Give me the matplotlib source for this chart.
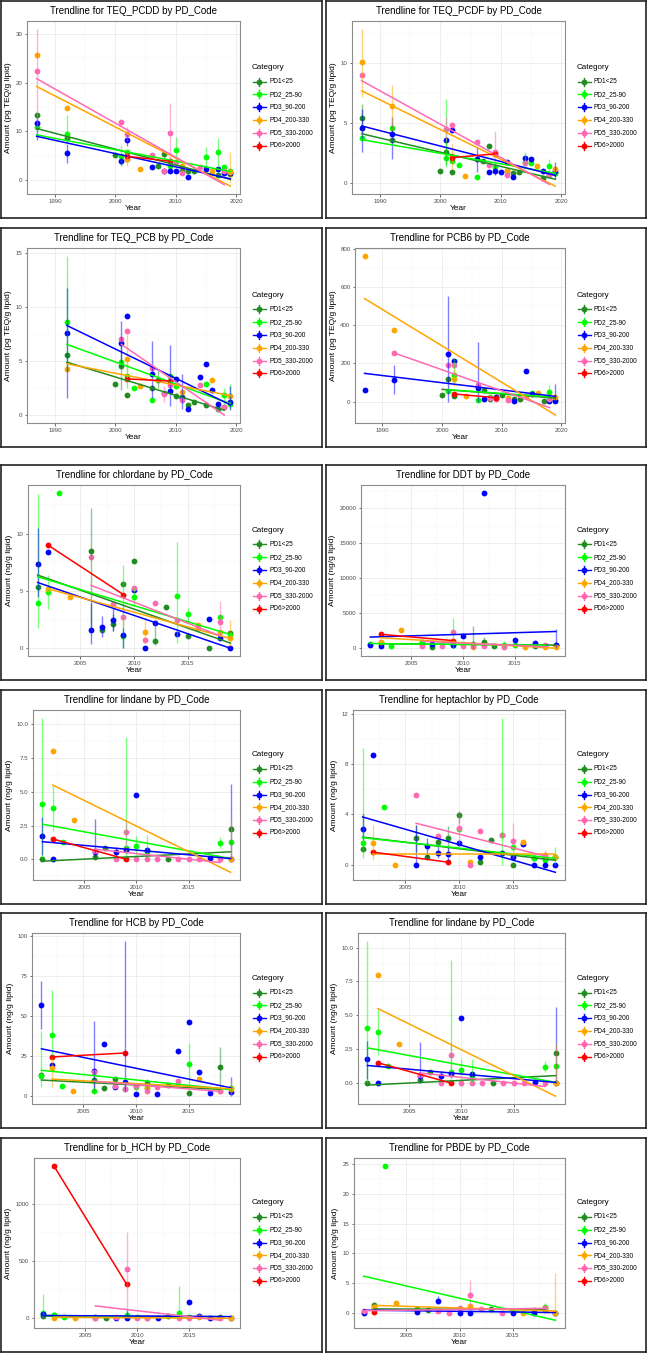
import matplotlib
matplotlib.use("Agg")
import matplotlib.pyplot as plt
from matplotlib.ticker import MultipleLocator, FormatStrFormatter

plt.rcParams['font.family'] = ['Liberation Sans', 'DejaVu Sans']

# -----------------------------
# Data
# -----------------------------
categories = ["PD1<25", "PD2_25-90", "PD3_90-200", "PD4_200-330", "PD5_330-2000", "PD6>2000"]
colors = ["#228B22", "#00FF00", "#0000FF", "#FFA500", "#FF69B4", "#FF0000"]
P1, P2, P3, P4, P5, P6 = categories

# TEQ_PCDD
pcdd_pts = {
    P1: [(1987, 13.3), (1992, 8.7), (2000, 5.1), (2002, 4.3), (2007, 3.0), (2008, 5.3), (2011, 2.0),
         (2012, 1.8), (2013, 2.0), (2017, 1.0), (2019, 1.2)],
    P2: [(1987, 10.9), (1992, 9.4), (2001, 5.0), (2002, 5.8), (2009, 2.9), (2010, 6.3), (2015, 4.8),
         (2017, 5.7), (2018, 2.7), (2019, 1.9)],
    P3: [(1987, 11.7), (1992, 5.6), (2001, 4.0), (2002, 8.2), (2006, 2.7), (2008, 1.8), (2009, 1.8),
         (2010, 1.8), (2012, 0.6), (2015, 2.4), (2017, 2.3), (2018, 1.5), (2019, 1.4)],
    P4: [(1987, 25.7), (1992, 14.8), (2002, 4.3), (2004, 2.4), (2011, 3.0), (2016, 1.8), (2019, 1.6)],
    P5: [(1987, 22.4), (2001, 12.0), (2002, 9.5), (2006, 5.1), (2008, 1.8), (2009, 9.7), (2010, 3.7),
         (2011, 1.5), (2014, 2.8), (2018, 1.8)],
    P6: [(2002, 4.9), (2009, 3.9)],
}
pcdd_err = {
    P1: [(2008, 4.5, 6.0)],
    P2: [(1992, 7.6, 13.3), (2001, 3.0, 7.3), (2010, 3.6, 8.9), (2015, 2.6, 6.9), (2017, 2.5, 8.6)],
    P3: [(1987, 8.2, 13.0), (1992, 3.5, 7.5), (2001, 3.2, 4.8), (2002, 7.0, 9.4)],
    P4: [(2002, 3.0, 6.0), (2019, -0.5, 5.8)],
    P5: [(1987, 10.0, 31.0), (2002, 8.0, 11.0), (2009, 3.5, 15.9)],
}
pcdd_trend = {P1: (10.6, 0.2), P2: (9.3, 1.8), P3: (9.0, 0.3), P4: (19.2, -1.2), P5: (20.8, -0.9), P6: (4.9, 3.9)}

# TEQ_PCDF
pcdf_pts = {
    P1: [(1987, 5.4), (1992, 3.6), (2000, 1.0), (2001, 2.6), (2002, 0.9), (2007, 1.8), (2008, 3.1),
         (2011, 1.0), (2012, 0.8), (2013, 0.85), (2017, 0.4), (2019, 0.8)],
    P2: [(1987, 3.7), (1992, 4.6), (2001, 2.1), (2002, 1.8), (2003, 1.45), (2006, 0.5), (2009, 1.3),
         (2014, 1.7), (2015, 1.6), (2018, 1.4), (2019, 0.8)],
    P3: [(1987, 4.6), (1992, 4.1), (2001, 3.6), (2002, 4.4), (2006, 2.0), (2008, 0.9), (2009, 1.0),
         (2010, 0.9), (2011, 1.7), (2012, 0.45), (2014, 2.1), (2015, 2.0), (2017, 1.0), (2018, 0.7), (2019, 1.0)],
    P4: [(1987, 10.1), (1992, 6.4), (2002, 2.2), (2004, 0.55), (2011, 1.0), (2016, 1.35), (2019, 1.1)],
    P5: [(1987, 9.0), (2001, 4.5), (2002, 4.8), (2006, 3.4), (2008, 1.5), (2009, 2.6), (2011, 0.65),
         (2014, 1.6), (2018, 0.6)],
    P6: [(2002, 2.1), (2009, 2.4)],
}
pcdf_err = {
    P1: [(1987, 4.2, 6.6), (2001, 1.5, 3.7)],
    P2: [(2001, 1.3, 7.0), (2014, 1.2, 2.6), (2018, 0.9, 2.0)],
    P3: [(1987, 2.6, 6.2), (1992, 2.0, 5.5), (2006, 0.9, 3.0), (2009, 0.6, 1.5), (2019, 0.3, 1.7)],
    P4: [(1987, 7.2, 12.9), (1992, 4.4, 8.2), (2002, 1.1, 3.3)],
    P5: [(2001, 3.5, 5.5), (2009, 1.4, 4.3)],
}
pcdf_trend = {P1: (4.1, 0.28), P2: (3.6, 0.78), P3: (4.75, 0.6), P4: (7.7, -0.3), P5: (8.55, -0.15), P6: (2.1, 2.4)}

# TEQ_PCB
pcb_pts = {
    P1: [(1992, 5.5), (2000, 2.8), (2001, 4.5), (2002, 1.8), (2006, 2.5), (2007, 3.2), (2008, 2.0),
         (2010, 1.7), (2011, 1.6), (2012, 0.85), (2013, 1.2), (2015, 0.9), (2017, 0.5), (2018, 0.7)],
    P2: [(1992, 8.6), (2001, 4.9), (2002, 3.6), (2003, 2.5), (2006, 1.3), (2009, 3.6), (2010, 2.6),
         (2015, 2.8), (2018, 1.8), (2019, 1.0)],
    P3: [(1992, 7.6), (2001, 6.6), (2002, 9.1), (2006, 3.8), (2009, 2.2), (2010, 3.3), (2011, 1.5),
         (2012, 0.55), (2014, 3.5), (2015, 4.7), (2016, 2.3), (2017, 1.0), (2019, 1.2)],
    P4: [(1992, 4.2), (2002, 5.1), (2004, 2.6), (2011, 2.1), (2016, 3.2), (2019, 1.75)],
    P5: [(2001, 7.0), (2002, 7.7), (2006, 4.3), (2008, 1.9), (2009, 2.7), (2011, 1.3), (2014, 2.7), (2018, 0.7)],
    P6: [(2002, 3.3), (2009, 3.1)],
}
pcb_err = {
    P1: [(2001, 2.3, 6.8), (2007, 2.5, 4.0)],
    P2: [(1992, 4.0, 14.7), (2002, 2.5, 4.8), (2018, 1.0, 2.5), (2019, 0.5, 2.8)],
    P3: [(1992, 1.5, 11.7), (2001, 4.5, 8.7), (2006, 1.5, 6.8), (2009, 0.8, 6.4), (2011, 0.5, 3.8), (2019, 0.4, 2.6)],
    P4: [(2002, 3.0, 7.5)],
    P5: [(2008, 1.2, 2.6)],
}
pcb_trend = {P1: (4.85, 0.4), P2: (6.5, 1.0), P3: (8.25, 0.9), P4: (4.7, 1.75), P5: (6.5, -0.05), P6: (3.3, 3.1)}

# PCB6
pcb6_pts = {
    P1: [(2000, 35), (2001, 120), (2002, 30), (2007, 60), (2008, 15), (2010, 35), (2012, 15), (2013, 15),
         (2017, 5), (2019, 10)],
    P2: [(2001, 55), (2002, 140), (2006, 10), (2008, 25), (2015, 45), (2018, 50)],
    P3: [(1987, 60), (1992, 115), (2001, 250), (2002, 215), (2006, 70), (2007, 15), (2009, 25), (2012, 5),
         (2014, 160), (2015, 40), (2018, 5), (2019, 5)],
    P4: [(1987, 765), (1992, 375), (2002, 120), (2004, 30), (2011, 20), (2016, 45), (2019, 25)],
    P5: [(1992, 253), (2001, 190), (2002, 190), (2006, 85), (2008, 20), (2009, 15), (2011, 10), (2014, 30), (2018, 15)],
    P6: [(2002, 40), (2009, 20)],
}
pcb6_err = {
    P2: [(2002, 100, 230), (2018, 20, 85)],
    P3: [(1992, 40, 190), (2001, 0, 555), (2006, 0, 315), (2019, 0, 90)],
    P4: [(2002, 80, 170)],
}
pcb6_trend = {P1: (64, 18), P2: (62, 25), P3: (148, 27), P4: (541, -71), P5: (255, -32), P6: (40, 20)}

# chlordane
chlordane_pts = {
    P1: [(2001, 5.35), (2006, 8.5), (2007, 1.6), (2008, 2.1), (2009, 5.6), (2010, 7.6), (2012, 0.6),
         (2013, 3.6), (2015, 1.1), (2017, 0.0), (2019, 1.3)],
    P2: [(2001, 3.95), (2002, 4.9), (2003, 13.6), (2009, 1.05), (2010, 4.5), (2014, 4.6), (2015, 3.0),
         (2018, 2.7), (2019, 1.2)],
    P3: [(2001, 7.4), (2002, 8.45), (2006, 1.6), (2007, 1.9), (2008, 2.5), (2009, 1.2), (2010, 5.1),
         (2011, 0.0), (2012, 2.25), (2014, 1.25), (2017, 2.55), (2018, 0.9), (2019, 0.0)],
    P4: [(2002, 5.2), (2004, 4.5), (2011, 1.4), (2016, 2.0), (2018, 1.4), (2019, 0.9)],
    P5: [(2006, 8.0), (2008, 3.9), (2009, 2.75), (2010, 5.25), (2011, 0.75), (2012, 3.95), (2014, 2.5),
         (2016, 1.8), (2018, 2.3)],
    P6: [(2002, 9.0), (2009, 4.7)],
}
chlordane_err = {
    P1: [(2006, 1.5, 12.3), (2008, 1.5, 3.0), (2012, 0.3, 2.5)],
    P2: [(2001, 1.8, 13.5), (2002, 3.4, 6.4), (2009, 0.0, 7.3), (2010, 3.7, 5.4), (2014, 0.5, 9.3), (2015, 2.2, 3.5)],
    P3: [(2001, 4.5, 10.5), (2006, 0.4, 4.0), (2007, 1.0, 2.8), (2008, 1.5, 3.5), (2009, 0.0, 1.8)],
    P4: [(2011, 0.5, 2.5), (2019, 0.2, 2.5)],
    P5: [(2009, 1.8, 3.8), (2018, 1.0, 4.1)],
}
chlordane_trend = {P1: (6.4, 0.45), P2: (6.25, 1.2), P3: (5.75, 0.0), P4: (5.2, 0.85), P5: (5.5, 1.1), P6: (9.0, 4.7)}

# DDT
ddt_pts = {
    P1: [(2002, 600), (2006, 700), (2007, 50), (2011, 500), (2012, 800), (2013, 250), (2017, 200), (2019, 300)],
    P2: [(2001, 550), (2002, 700), (2003, 200), (2006, 800), (2009, 400), (2010, 500), (2014, 400),
         (2015, 300), (2018, 200)],
    P3: [(2001, 400), (2002, 150), (2007, 500), (2009, 300), (2010, 1600), (2012, 22200), (2015, 1050),
         (2017, 600), (2019, 300)],
    P4: [(2002, 800), (2004, 2500), (2011, 100), (2016, 100), (2018, 50), (2019, 50)],
    P5: [(2006, 150), (2008, 200), (2009, 2200), (2010, 200), (2011, 200), (2012, 150), (2014, 100), (2018, 300)],
    P6: [(2002, 1900), (2009, 1000)],
}
ddt_err = {
    P1: [(2011, 0, 3100), (2012, 300, 1500)],
    P2: [(2009, 0, 4300), (2014, 0, 1000)],
    P3: [(2019, 0, 2700)],
}
ddt_trend = {P1: (550, 350), P2: (570, 330), P3: (1500, 2300), P4: (1400, -100), P5: (900, 100), P6: (1900, 1000)}

# lindane
lindane_pts = {
    P1: [(2001, 0.0), (2006, 0.2), (2007, 0.85), (2013, 0.0), (2019, 2.25)],
    P2: [(2001, 4.1), (2002, 3.8), (2003, 1.25), (2009, 0.85), (2010, 1.0), (2011, 0.55), (2018, 1.2), (2019, 1.25)],
    P3: [(2001, 1.75), (2002, 0.0), (2006, 0.5), (2008, 0.5), (2009, 0.65), (2010, 4.8), (2011, 0.7),
         (2017, 0.1), (2019, 0.0)],
    P4: [(2002, 8.0), (2004, 2.9), (2019, 0.0)],
    P5: [(2006, 0.6), (2008, 0.0), (2009, 2.05), (2010, 0.0), (2011, 0.0), (2012, 0.0), (2014, 0.0),
         (2015, 0.0), (2016, 0.0), (2018, 0.0)],
    P6: [(2002, 1.5), (2009, 0.0)],
}
lindane_err = {
    P2: [(2001, 0.0, 10.5), (2002, 2.1, 5.5), (2009, 0.0, 9.1), (2010, 0.3, 1.75), (2011, 0.0, 1.8), (2018, 0.8, 1.65)],
    P3: [(2001, 0.3, 3.1), (2006, 0.0, 3.0), (2008, 0.2, 0.9), (2019, 0.0, 5.6)],
    P4: [(2019, 0.0, 2.85)],
    P5: [(2009, 0.5, 3.0)],
}
lindane_trend = {P1: (-0.15, 0.55), P2: (2.6, 0.05), P3: (1.3, 0.05), P4: (5.5, -0.97), P5: (0.75, -0.25), P6: (1.5, 0.0)}

# heptachlor
hepta_pts = {
    P1: [(2001, 1.25), (2006, 2.1), (2007, 0.6), (2008, 1.8), (2009, 2.15), (2010, 3.95), (2012, 0.25),
         (2013, 2.0), (2015, 0.0), (2017, 0.55), (2018, 0.5), (2019, 0.65)],
    P2: [(2001, 1.75), (2003, 4.6), (2010, 2.85), (2014, 2.35), (2015, 1.4), (2017, 0.5), (2018, 0.4), (2019, 0.6)],
    P3: [(2001, 2.85), (2002, 8.75), (2006, 0.0), (2007, 1.5), (2008, 0.95), (2009, 0.85), (2010, 1.7),
         (2012, 0.6), (2014, 0.95), (2015, 0.6), (2016, 1.65), (2017, 0.0), (2018, 0.0), (2019, 0.0)],
    P4: [(2002, 1.75), (2004, 0.0), (2011, 0.25), (2016, 1.8), (2018, 0.7), (2019, 0.65)],
    P5: [(2006, 5.55), (2008, 2.3), (2010, 2.95), (2011, 0.0), (2012, 2.7), (2014, 2.35), (2015, 1.85), (2018, 0.8)],
    P6: [(2002, 1.0), (2009, 0.2)],
}
hepta_err = {
    P1: [(2006, 1.0, 3.2), (2009, 1.2, 3.1), (2010, 3.3, 4.3)],
    P2: [(2001, 0.5, 9.3), (2014, 0.0, 11.7), (2019, 0.0, 1.4)],
    P3: [(2001, 2.0, 4.0), (2006, 0.0, 3.2), (2007, 0.5, 2.1), (2008, 0.5, 1.5), (2009, 0.3, 1.4)],
    P4: [(2002, 0.4, 3.2)],
    P5: [(2010, 1.5, 4.2), (2015, 0.5, 3.3), (2018, 0.4, 1.2)],
}
hepta_trend = {P1: (2.2, 0.35), P2: (2.15, 0.5), P3: (3.8, -0.6), P4: (0.85, 0.85), P5: (3.3, 0.7), P6: (1.0, 0.2)}

# HCB
hcb_pts = {
    P1: [(2001, 13.5), (2006, 10.0), (2007, 5.0), (2008, 11.0), (2011, 8.0), (2013, 7.0), (2015, 2.0), (2018, 18.0)],
    P2: [(2001, 12.5), (2002, 38.5), (2003, 6.5), (2006, 3.2), (2009, 4.5), (2010, 5.5), (2011, 5.0),
         (2015, 20.0), (2019, 5.0)],
    P3: [(2001, 57), (2002, 19.5), (2006, 16), (2007, 32.5), (2008, 5.5), (2009, 9), (2010, 1.5), (2012, 1.5),
         (2014, 28), (2015, 46.5), (2016, 15), (2017, 2), (2019, 2.5)],
    P4: [(2002, 17.5), (2004, 3.0), (2011, 5.0), (2016, 11.0), (2018, 3.0), (2019, 4.5)],
    P5: [(2006, 15), (2008, 6.5), (2009, 4.5), (2010, 6.5), (2011, 3.0), (2012, 5.5), (2014, 9.5), (2018, 3.0)],
    P6: [(2002, 24.5), (2009, 27)],
}
hcb_err = {
    P1: [(2006, 3, 16), (2011, 4, 11), (2018, 5, 31)],
    P2: [(2001, 6, 41), (2002, 25, 66), (2015, 5, 33)],
    P3: [(2001, 42, 72), (2006, 5, 47), (2009, 3, 97), (2019, 0, 12)],
    P4: [(2002, 6, 25), (2019, 0, 10)],
}
hcb_trend = {P1: (10.1, 4.3), P2: (16.2, 4.1), P3: (29.6, 5.3), P4: (10.7, 4.7), P5: (9.3, 3.0), P6: (24.5, 27)}

# b_HCH
bhch_pts = {
    P1: [(2001, 20), (2002, 30), (2007, 5), (2013, 20), (2018, 15)],
    P2: [(2001, 50), (2002, 30), (2003, 15), (2006, 5), (2009, 30), (2010, 15), (2014, 50), (2015, 15)],
    P3: [(2001, 40), (2006, 15), (2008, 0), (2009, 0), (2012, 0), (2015, 145), (2016, 20), (2017, 0), (2019, 5)],
    P4: [(2002, 5), (2004, 0), (2011, 5), (2016, 10), (2019, 0)],
    P5: [(2006, 5), (2008, 15), (2009, 430), (2010, 0), (2011, 0), (2014, 0), (2015, 0), (2018, 0)],
    P6: [(2002, 1340), (2009, 300)],
}
bhch_err = {
    P2: [(2001, 10, 210), (2014, 5, 285)],
    P3: [(2009, 0, 90)],
    P5: [(2009, 100, 760)],
}
bhch_trend = {P1: (20, 15), P2: (25, 10), P3: (25, 15), P4: (10, 0), P5: (109, -17), P6: (1340, 300)}

# PBDE
pbde_pts = {
    P1: [(2002, 1.3), (2006, 0.7), (2007, 0.5), (2013, 0.7), (2017, 0.6), (2018, 0.6)],
    P2: [(2001, 0.2), (2002, 0.9), (2003, 24.7), (2006, 0.5), (2018, 1.1), (2019, 0.1)],
    P3: [(2001, 0.1), (2006, 0.2), (2008, 2.1), (2010, 0.1), (2011, 0.1), (2015, 0.1), (2017, 0.1), (2019, 0.1)],
    P4: [(2002, 1.1), (2004, 1.7), (2011, 1.2), (2016, 0.1), (2018, 0.8), (2019, 0.1)],
    P5: [(2001, 0.3), (2008, 0.3), (2009, 0.1), (2010, 0.9), (2011, 3.1), (2012, 0.7), (2014, 0.1), (2018, 0.8)],
    P6: [(2002, 0.2)],
}
pbde_err = {
    P2: [(2018, 0.6, 1.7)],
    P3: [(2008, 1.5, 2.9)],
    P4: [(2019, 0.0, 6.7)],
    P5: [(2011, 1.0, 5.5)],
}
pbde_trend = {P1: (0.7, 0.6), P2: (6.2, -1.2), P3: (0.5, 0.1), P4: (1.3, 0.35), P5: (0.4, 0.8)}

teq_label = "Amount (pg TEQ/g lipid)"
ng_label = "Amount (ng/g lipid)"

# name, y label, points, errors, trends, year span, x step, y step, left offset
panels = [
    ("TEQ_PCDD", teq_label, pcdd_pts, pcdd_err, pcdd_trend, (1987, 2019), 10, 10, 26),
    ("TEQ_PCDF", teq_label, pcdf_pts, pcdf_err, pcdf_trend, (1987, 2019), 10, 5, 26),
    ("TEQ_PCB", teq_label, pcb_pts, pcb_err, pcb_trend, (1987, 2019), 10, 5, 26),
    ("PCB6", teq_label, pcb6_pts, pcb6_err, pcb6_trend, (1987, 2019), 10, 200, 29),
    ("chlordane", ng_label, chlordane_pts, chlordane_err, chlordane_trend, (2001, 2019), 5, 5, 27),
    ("DDT", ng_label, ddt_pts, ddt_err, ddt_trend, (2001, 2019), 5, 5000, 35),
    ("lindane", ng_label, lindane_pts, lindane_err, lindane_trend, (2001, 2019), 5, 2.5, 32),
    ("heptachlor", ng_label, hepta_pts, hepta_err, hepta_trend, (2001, 2019), 5, 4, 27),
    ("HCB", ng_label, hcb_pts, hcb_err, hcb_trend, (2001, 2019), 5, 25, 31),
    ("lindane", ng_label, lindane_pts, lindane_err, lindane_trend, (2001, 2019), 5, 2.5, 32),
    ("b_HCH", ng_label, bhch_pts, bhch_err, bhch_trend, (2001, 2019), 5, 500, 33),
    ("PBDE", ng_label, pbde_pts, pbde_err, pbde_trend, (2001, 2019), 5, 5, 28),
]

# -----------------------------
# Layout (pixels)
# -----------------------------
W, H = 647, 1353
fig = plt.figure(figsize=(W / 100, H / 100), dpi=100)

col_x = [(1, 322), (326, 646)]
row_y = [(1, 218), (228, 447), (465, 680), (690, 904), (913, 1128), (1138, 1352)]


def px_axes(x0, y0, x1, y1):
    return fig.add_axes([x0 / W, 1 - y1 / H, (x1 - x0) / W, (y1 - y0) / H])


for i, (name, ylabel, pts, errs, trends, span, xstep, ystep, left) in enumerate(panels):
    bx0, bx1 = col_x[i % 2]
    by0, by1 = row_y[i // 2]
    bw, bh = bx1 - bx0, by1 - by0

    # outer box
    frame = px_axes(bx0, by0, bx1, by1)
    frame.set_xlim(0, bw)
    frame.set_ylim(bh, 0)
    frame.set_xticks([])
    frame.set_yticks([])
    for s in frame.spines.values():
        s.set_color("#222222")
        s.set_linewidth(1.2)

    top, bottom, right = 20, bh - 24, 239
    ax = px_axes(bx0 + left, by0 + top, bx0 + right, by0 + bottom)

    yvals = []
    for cat, col in zip(categories, colors):
        p = pts.get(cat, [])
        if not p:
            continue
        xs = [a for a, b in p]
        ys = [b for a, b in p]
        yvals += ys
        ax.plot(xs, ys, "o", ms=4.2, mec="none", color=col, zorder=3)
        for yr, lo, hi in errs.get(cat, []):
            ax.vlines(yr, lo, hi, color=col, alpha=0.5, lw=1.0, zorder=4)
            yvals += [lo, hi]
        if cat in trends:
            t0, t1 = trends[cat]
            ax.plot([min(xs), max(xs)], [t0, t1], color=col, lw=1.1, zorder=5)
            yvals += [t0, t1]

    x0, x1 = span
    xp = 0.05 * (x1 - x0)
    ax.set_xlim(x0 - xp, x1 + xp)
    y0, y1 = min(yvals), max(yvals)
    yp = 0.05 * (y1 - y0)
    ax.set_ylim(y0 - yp, y1 + yp)

    ax.xaxis.set_major_locator(MultipleLocator(xstep))
    ax.xaxis.set_minor_locator(MultipleLocator(xstep / 2))
    ax.yaxis.set_major_locator(MultipleLocator(ystep))
    ax.yaxis.set_minor_locator(MultipleLocator(ystep / 2))
    if ystep != int(ystep):
        ax.yaxis.set_major_formatter(FormatStrFormatter("%.1f"))
    else:
        ax.yaxis.set_major_formatter(FormatStrFormatter("%d"))
    ax.set_axisbelow(True)
    ax.grid(which="major", color="#EBEBEB", lw=0.6)
    ax.grid(which="minor", color="#F4F4F4", lw=0.35)
    ax.tick_params(which="major", labelsize=4.4, labelcolor="#4D4D4D", length=1.8, width=0.5,
                   color="#333333", pad=1.5)
    ax.tick_params(which="minor", length=0)
    for s in ax.spines.values():
        s.set_color("#8C8C8C")
        s.set_linewidth(0.8)
    ax.set_ylabel(ylabel, fontsize=6, labelpad=2.5)
    ax.set_xlabel("Year", fontsize=6, labelpad=1)

    # title
    frame.text((left + right) / 2, 10, "Trendline for %s by PD_Code" % name, ha="center", va="center", fontsize=7)

    # legend
    cy = (top + bottom) / 2
    frame.text(251, cy - 40, "Category", ha="left", va="center", fontsize=5.8)
    for k, (cat, col) in enumerate(zip(categories, colors)):
        ky = cy - 26 + 12.8 * k
        kx = 258
        frame.plot([kx - 6.5, kx + 6.5], [ky, ky], color=col, lw=1.0)
        frame.plot([kx, kx], [ky - 4, ky + 4], color=col, lw=1.0)
        frame.plot([kx], [ky], "o", ms=4.2, mec="none", color=col)
        frame.text(kx + 10, ky, cat, ha="left", va="center", fontsize=4.7)

fig.savefig("out.png", dpi=100)
